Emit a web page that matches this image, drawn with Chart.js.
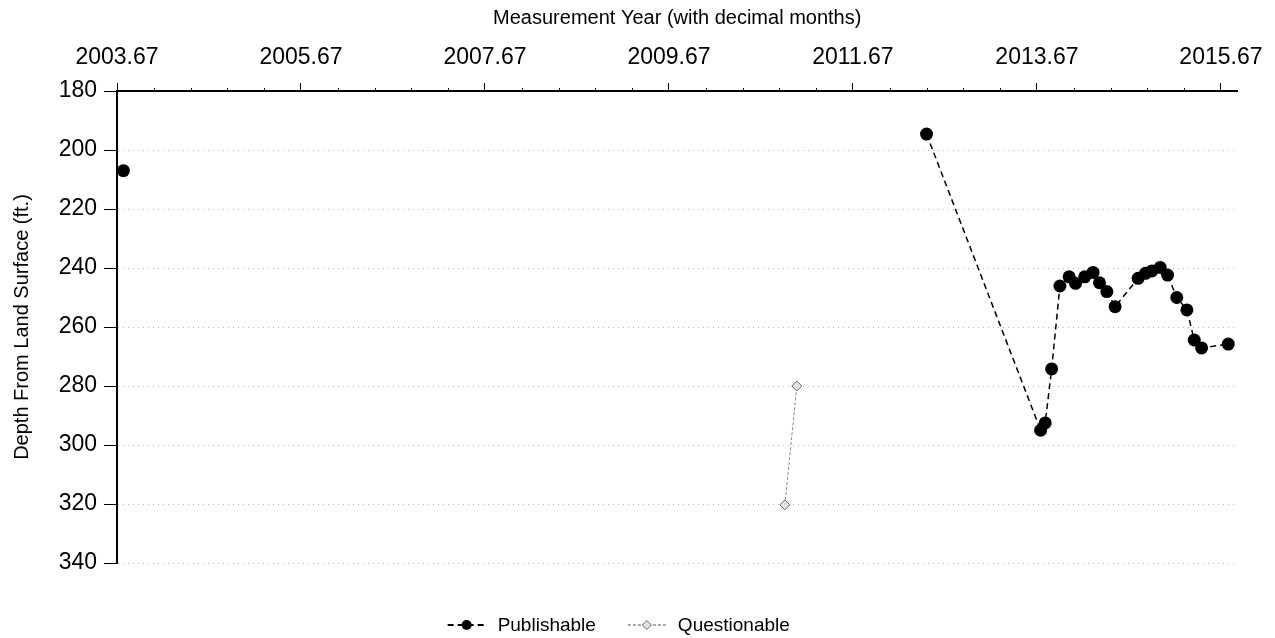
<!DOCTYPE html>
<html>
<head>
<meta charset="utf-8">
<script src="https://cdn.jsdelivr.net/npm/chart.js@4.4.1/dist/chart.umd.min.js"></script>
<style>
	html, body { margin: 0; padding: 0; background: #fff; }
	#wrap { width: 1275px; height: 638px; }
</style>
</head>
<body>
<div id="wrap"><canvas id="chart" width="1275" height="638"></canvas></div>
<script>
	'use strict';

	// Axis ticks.
	const xTicks = [2003.67, 2005.67, 2007.67, 2009.67, 2011.67, 2013.67, 2015.67];
	const yTicks = [180, 200, 220, 240, 260, 280, 300, 320, 340];

	// Publishable measurements (decimal year, depth in ft).
	const pubYears = [2003.74, 2012.47, 2013.71, 2013.76, 2013.83, 2013.92, 2014.02, 2014.09, 2014.19, 2014.28, 2014.35, 2014.43, 2014.52, 2014.77, 2014.85, 2014.92, 2015.01, 2015.09, 2015.19, 2015.30, 2015.38, 2015.46, 2015.75];
	const pubDepths = [207, 194.6, 295, 292.5, 274.2, 246.1, 243.0, 245.2, 243.0, 241.5, 245.0, 248.0, 253.1, 243.5, 241.8, 241.0, 239.8, 242.4, 250.0, 254.2, 264.4, 267.1, 265.8];

	// Questionable measurements.
	const questYears = [2010.93, 2011.06];
	const questDepths = [320.3, 280];

	const fontFamily = '"Liberation Sans", Arial, sans-serif';

	function toPoints(xs, ys) {
		return xs.map(function(x, i) {
			return { x: x, y: ys[i] };
		});
	}

	// Small minor ticks along the top axis, every 0.4 year.
	const minorTicks = {
		id: 'minorTicks',
		afterDraw: function(chart) {
			const scale = chart.scales.x;
			const ctx = chart.ctx;
			const top = chart.chartArea.top;
			ctx.save();
			ctx.strokeStyle = '#000';
			ctx.lineWidth = 1;
			for (let k = 0; ; k++) {
				const v = xTicks[0] + k * 0.4;
				if (v > scale.max) break;
				if (k % 5 === 0) continue;
				const px = Math.round(scale.getPixelForValue(v)) + 0.5;
				ctx.beginPath();
				ctx.moveTo(px, top - 3);
				ctx.lineTo(px, top);
				ctx.stroke();
			}
			ctx.restore();
		}
	};

	// Legend drawn below the plot: dashed line sample with marker, then label.
	const lineLegend = {
		id: 'lineLegend',
		afterDraw: function(chart) {
			const ctx = chart.ctx;
			const cy = chart.chartArea.bottom + 62;
			const sampleW = 38;
			const gapText = 12;
			const gapItems = 32;
			ctx.save();
			ctx.font = '19px ' + fontFamily;
			const items = chart.data.datasets.map(function(ds) {
				return { ds: ds, w: sampleW + gapText + ctx.measureText(ds.label).width };
			});
			let total = -gapItems;
			items.forEach(function(it) { total += it.w + gapItems; });
			let x = chart.chartArea.right / 2 - total / 2;
			items.forEach(function(it) {
				const ds = it.ds;
				ctx.strokeStyle = ds.borderColor;
				ctx.lineWidth = ds.legendLineWidth;
				ctx.setLineDash(ds.borderDash);
				ctx.beginPath();
				ctx.moveTo(x, cy);
				ctx.lineTo(x + sampleW, cy);
				ctx.stroke();
				ctx.setLineDash([]);
				ctx.fillStyle = ds.pointBackgroundColor;
				ctx.strokeStyle = ds.pointBorderColor;
				ctx.lineWidth = ds.pointBorderWidth;
				Chart.helpers.drawPoint(ctx, {
					pointStyle: ds.pointStyle,
					radius: ds.legendRadius,
					rotation: 0,
					borderWidth: ds.pointBorderWidth
				}, x + sampleW / 2, cy);
				ctx.fillStyle = '#000';
				ctx.textAlign = 'left';
				ctx.textBaseline = 'middle';
				ctx.fillText(ds.label, x + sampleW + gapText, cy + 1);
				x += it.w + gapItems;
			});
			ctx.restore();
		}
	};

	const ctx = document.getElementById('chart').getContext('2d');
	new Chart(ctx, {
		type: 'line',
		data: {
			datasets: [
				{
					label: 'Publishable',
					data: toPoints(pubYears, pubDepths),
					borderColor: '#000',
					borderWidth: 1.5,
					legendLineWidth: 2,
					borderDash: [6, 4],
					pointStyle: 'circle',
					pointRadius: 6.5,
					legendRadius: 5,
					pointBackgroundColor: '#000',
					pointBorderColor: '#000',
					pointBorderWidth: 0,
					fill: false,
					tension: 0,
					segment: {
						// First reading stands alone, no connecting line.
						borderColor: function(c) { return c.p0DataIndex === 0 ? 'rgba(0,0,0,0)' : '#000'; }
					}
				},
				{
					label: 'Questionable',
					data: toPoints(questYears, questDepths),
					borderColor: '#8a8a8a',
					borderWidth: 1,
					legendLineWidth: 1.5,
					borderDash: [3, 2],
					pointStyle: 'rectRot',
					pointRadius: 5,
					legendRadius: 4.5,
					pointBackgroundColor: '#e4e4e4',
					pointBorderColor: '#666',
					pointBorderWidth: 1,
					fill: false,
					tension: 0
				}
			]
		},
		options: {
			responsive: false,
			animation: false,
			devicePixelRatio: 1,
			layout: {
				padding: { left: 0, right: 35, top: 0, bottom: 75 }
			},
			plugins: {
				legend: { display: false },
				tooltip: { enabled: false }
			},
			scales: {
				x: {
					type: 'linear',
					position: 'top',
					min: 2003.67,
					max: 2015.85,
					afterBuildTicks: function(scale) {
						scale.ticks = xTicks.map(function(v) { return { value: v }; });
					},
					afterFit: function(scale) {
						scale.height = 91;
					},
					ticks: {
						autoSkip: false,
						maxRotation: 0,
						padding: 12,
						color: '#000',
						font: { family: fontFamily, size: 23 },
						callback: function(v) { return Number(v).toFixed(2); }
					},
					grid: {
						drawOnChartArea: false,
						drawTicks: true,
						tickLength: 8,
						tickColor: '#000',
						tickWidth: 1
					},
					border: { display: true, color: '#000', width: 2 },
					title: {
						display: true,
						text: 'Measurement Year (with decimal months)',
						color: '#000',
						font: { family: fontFamily, size: 20 },
						padding: { top: 6, bottom: 0 }
					}
				},
				y: {
					type: 'linear',
					reverse: true,
					min: 180,
					max: 340,
					afterBuildTicks: function(scale) {
						scale.ticks = yTicks.map(function(v) { return { value: v }; });
					},
					afterFit: function(scale) {
						scale.width = 117;
					},
					ticks: {
						padding: 7,
						color: '#000',
						font: { family: fontFamily, size: 23 }
					},
					grid: {
						color: 'rgba(0,0,0,0.3)',
						lineWidth: 1,
						drawTicks: true,
						tickLength: 13,
						tickColor: '#000',
						tickWidth: 1
					},
					// In v4 the dash of the grid lines lives under border.
					border: { display: true, color: '#000', width: 2, dash: [1, 4] },
					title: {
						display: true,
						text: 'Depth From Land Surface (ft.)',
						color: '#000',
						font: { family: fontFamily, size: 20 },
						padding: { top: 10, bottom: 0 }
					}
				}
			}
		},
		plugins: [minorTicks, lineLegend]
	});
</script>
</body>
</html>
